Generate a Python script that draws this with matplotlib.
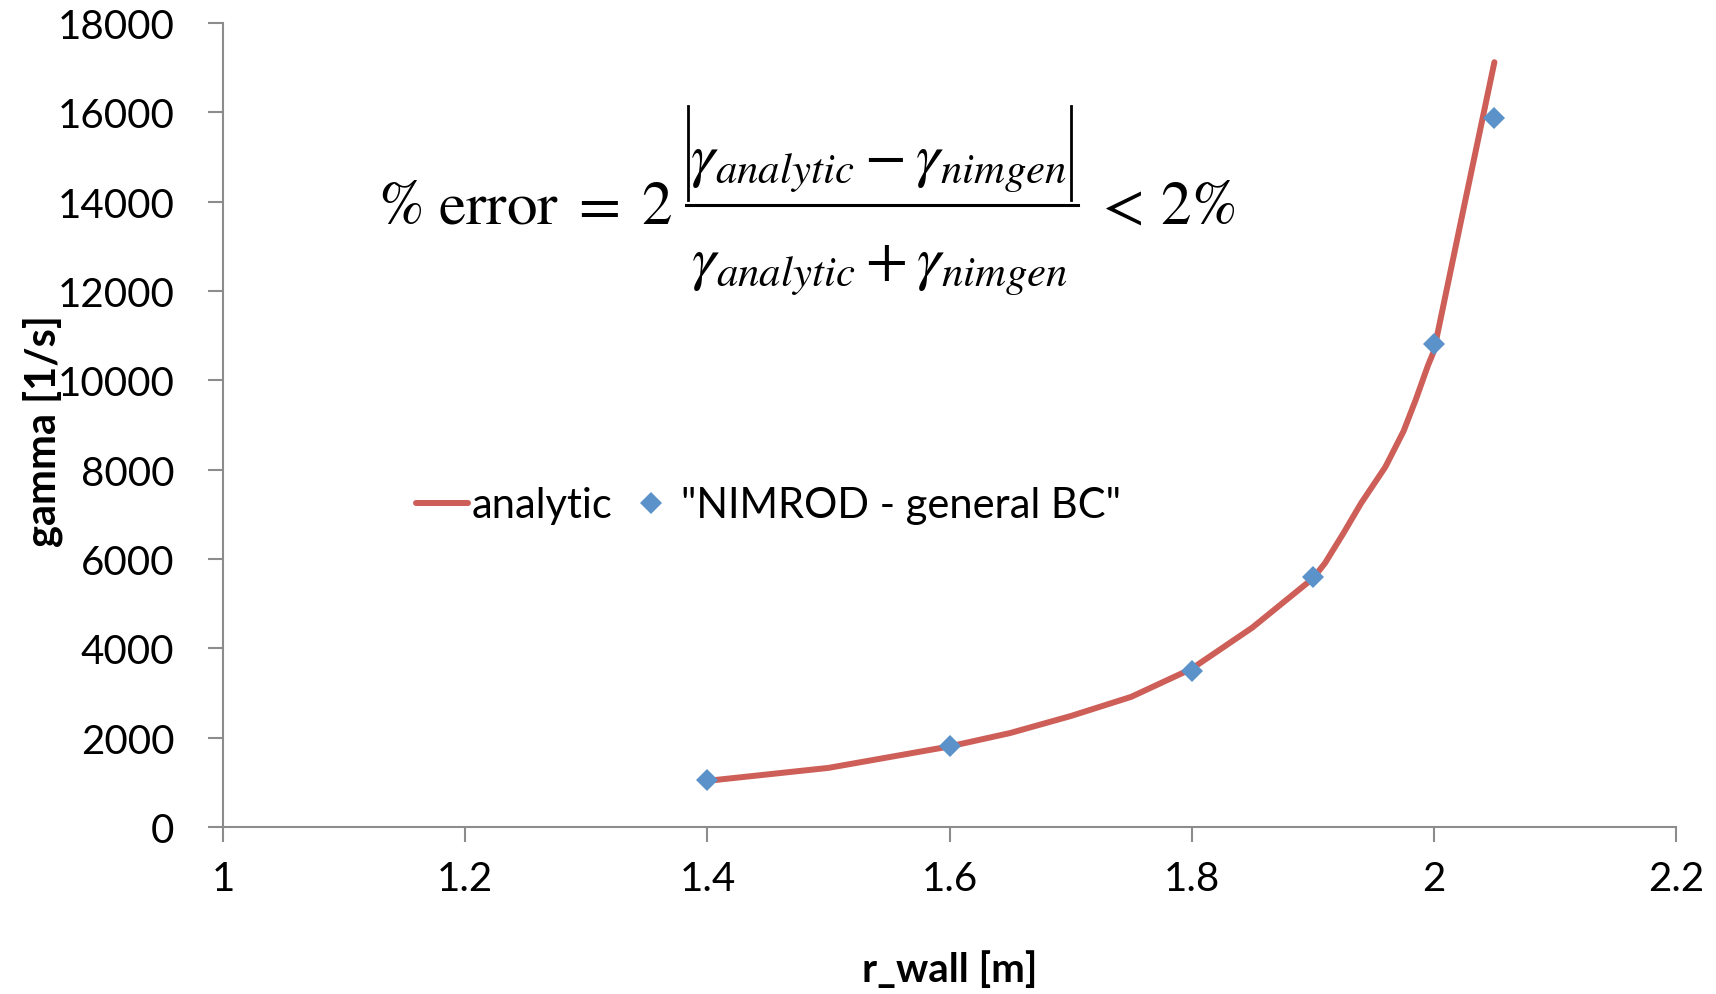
import matplotlib
matplotlib.use("Agg")
import matplotlib.pyplot as plt
from matplotlib.lines import Line2D

# analytic growth rate
r_analytic = [1.4, 1.5, 1.6, 1.65, 1.7, 1.75, 1.8, 1.85, 1.9, 1.91, 1.925, 1.94,
              1.96, 1.975, 1.985, 1.995, 2.0, 2.025, 2.05]
g_analytic = [1030, 1320, 1800, 2100, 2480, 2910, 3540, 4460, 5560, 5900, 6560, 7250,
              8060, 8860, 9560, 10320, 10650, 13900, 17120]

# NIMROD general BC runs
r_nimrod = [1.4, 1.6, 1.8, 1.9, 2.0, 2.05]
g_nimrod = [1040, 1800, 3500, 5600, 10800, 15860]

x_ticks = [1, 1.2, 1.4, 1.6, 1.8, 2, 2.2]
x_ticklabels = ["1", "1.2", "1.4", "1.6", "1.8", "2", "2.2"]
y_ticks = list(range(0, 18001, 2000))

plt.rcParams['font.family'] = ['Lato', 'DejaVu Sans']
plt.rcParams['mathtext.fontset'] = 'stix'

W, H = 1716, 995
fig = plt.figure(figsize=(W / 100, H / 100), dpi=100)
ax = fig.add_axes([0.130, 0.168, 0.8467, 0.808])

ax.plot(r_analytic, g_analytic, color='#CD5F58', lw=4.3, solid_capstyle='round',
        solid_joinstyle='round', label='analytic', zorder=2)
ax.plot(r_nimrod, g_nimrod, ls='none', marker='D', ms=11, color='#5B92C9',
        markeredgewidth=0, label='"NIMROD - general BC"', zorder=3)

ax.set_xlim(1, 2.2)
ax.set_ylim(0, 18000)
ax.set_xticks(x_ticks)
ax.set_xticklabels(x_ticklabels)
ax.set_yticks(y_ticks)

for s in ['top', 'right']:
    ax.spines[s].set_visible(False)
for s in ['left', 'bottom']:
    ax.spines[s].set_color('#8c8c8c')
    ax.spines[s].set_linewidth(1.5)

ax.tick_params(axis='y', direction='out', length=11, width=1.5, color='#8c8c8c',
               pad=24, labelsize=29)
ax.tick_params(axis='x', direction='out', length=11, width=1.5, color='#8c8c8c',
               pad=13, labelsize=29)

ax.set_xlabel('r_wall [m]', fontsize=29, fontweight='bold', labelpad=38)
ax.set_ylabel('gamma [1/s]', fontsize=30, fontweight='bold')
ax.yaxis.set_label_coords(-0.110, 0.494)

ax.legend(loc='center left', bbox_to_anchor=(0.121, 0.40), ncol=2, frameon=False,
          fontsize=30, handlelength=1.25, handletextpad=0.1, columnspacing=0.3,
          borderaxespad=0)

# error formula, laid out piece by piece (positions in pixels from top-left)
def fx(px):
    return px / W

def fy(py):
    return 1 - py / H

fs = 44
fig.text(fx(378), fy(224), r'$\%\ \mathrm{error}\;=\;2$', fontsize=fs,
         ha='left', va='baseline')
fig.text(fx(879), fy(175), r'$\gamma_{analytic} - \gamma_{nimgen}$',
         fontsize=fs, ha='center', va='baseline')
fig.text(fx(880), fy(279), r'$\gamma_{analytic} + \gamma_{nimgen}$',
         fontsize=fs, ha='center', va='baseline')
for bx in (688, 1071):
    fig.add_artist(Line2D([fx(bx), fx(bx)], [fy(107), fy(201)], color='black',
                          lw=2.0, transform=fig.transFigure))
fig.add_artist(Line2D([fx(686), fx(1078)], [fy(206), fy(206)], color='black',
                      lw=2.2, transform=fig.transFigure))
fig.text(fx(1094), fy(224), r'$<\,2\%$', fontsize=fs, ha='left', va='baseline')

fig.savefig('out.png', dpi=100, facecolor='white')
